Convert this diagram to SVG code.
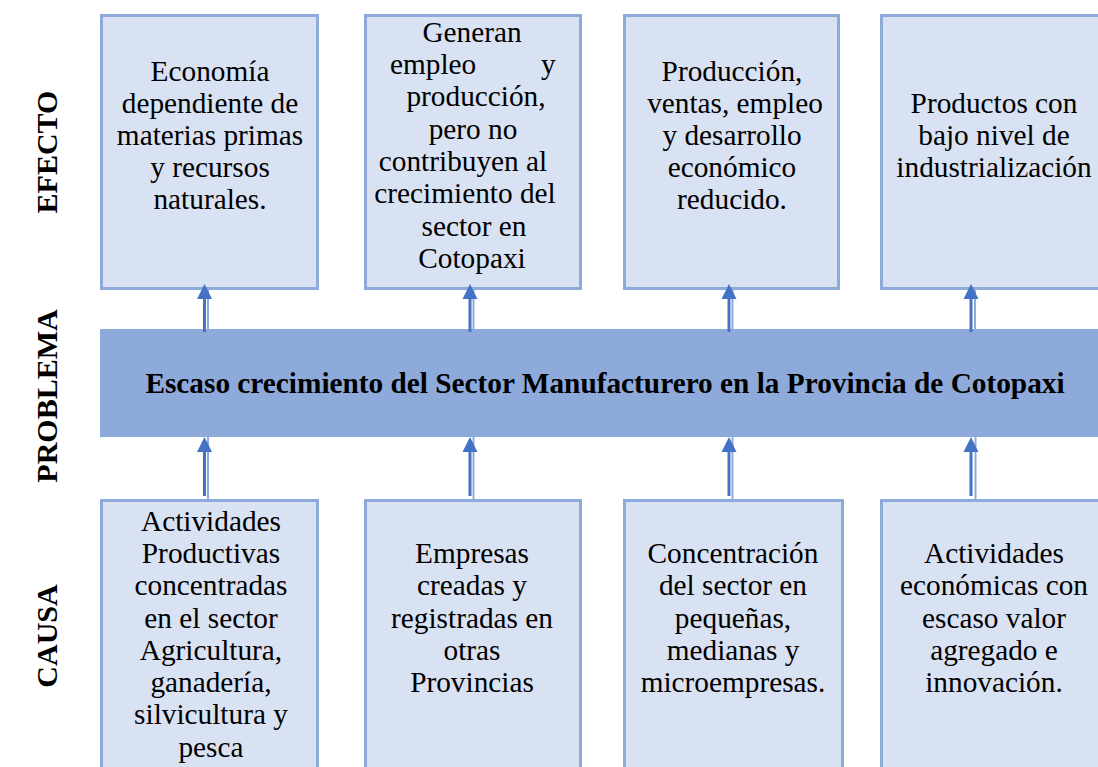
<svg xmlns="http://www.w3.org/2000/svg" width="1098" height="767" viewBox="0 0 1098 767">
<style>
.box{fill:#d9e2f3;stroke:#8eaadb;stroke-width:3}
.banner{fill:#8eaadb}
.t{font-family:"Liberation Serif","Times New Roman",serif;font-size:29.3px;fill:#000;text-anchor:middle}
.b{font-weight:bold}
.s{text-anchor:start}
.lab{font-family:"Liberation Serif","Times New Roman",serif;font-size:30px;font-weight:bold;fill:#000;text-anchor:middle}
.dk{stroke:#4472c4;stroke-width:3;fill:none}
.lt{stroke:#8eaadb;stroke-width:2;fill:none}
.head{fill:#4472c4}
</style>
<rect width="1098" height="767" fill="#fff"/>
<g id="labels">
<text class="lab" transform="translate(57,152) rotate(-90)">EFECTO</text>
<text class="lab" transform="translate(57,396) rotate(-90)">PROBLEMA</text>
<text class="lab" transform="translate(57,636) rotate(-90)">CAUSA</text>
</g>
<g id="problema">
<rect class="banner" x="100" y="329" width="1010" height="108"/>
<text class="t b" x="605" y="393">Escaso crecimiento del Sector Manufacturero en la Provincia de Cotopaxi</text>
</g>
<g id="efecto1">
<rect class="box" x="101.5" y="15.5" width="216" height="273"/>
<text class="t" x="210" y="81">Economía</text>
<text class="t" x="210" y="113">dependiente de</text>
<text class="t" x="210" y="145">materias primas</text>
<text class="t" x="210" y="177">y recursos</text>
<text class="t" x="210" y="209">naturales.</text>
</g>
<g id="efecto2">
<rect class="box" x="365.5" y="15.5" width="215" height="273"/>
<text class="t" x="472" y="42">Generan</text>
<text class="t s" x="390" y="74">empleo<tspan x="541">y</tspan></text>
<text class="t" x="476" y="106">producción,</text>
<text class="t" x="473" y="139">pero no</text>
<text class="t" x="463" y="171">contribuyen al</text>
<text class="t" x="465" y="203">crecimiento del</text>
<text class="t" x="474" y="236">sector en</text>
<text class="t" x="472" y="268">Cotopaxi</text>
</g>
<g id="efecto3">
<rect class="box" x="624.5" y="15.5" width="214" height="273"/>
<text class="t" x="732" y="81">Producción,</text>
<text class="t" x="735" y="113">ventas, empleo</text>
<text class="t" x="732" y="145">y desarrollo</text>
<text class="t" x="732" y="177">económico</text>
<text class="t" x="732" y="209">reducido.</text>
</g>
<g id="efecto4">
<rect class="box" x="881.5" y="15.5" width="230" height="273"/>
<text class="t" x="994" y="113">Productos con</text>
<text class="t" x="994" y="145">bajo nivel de</text>
<text class="t" x="994" y="177">industrialización</text>
</g>
<g id="causa1">
<rect class="box" x="101.5" y="500.5" width="216" height="280"/>
<text class="t" x="211" y="531">Actividades</text>
<text class="t" x="211" y="563">Productivas</text>
<text class="t" x="211" y="595">concentradas</text>
<text class="t" x="211" y="628">en el sector</text>
<text class="t" x="211" y="660">Agricultura,</text>
<text class="t" x="211" y="692">ganadería,</text>
<text class="t" x="211" y="724">silvicultura y</text>
<text class="t" x="211" y="757">pesca</text>
</g>
<g id="causa2">
<rect class="box" x="365.5" y="500.5" width="215" height="280"/>
<text class="t" x="472" y="563">Empresas</text>
<text class="t" x="472" y="595">creadas y</text>
<text class="t" x="472" y="628">registradas en</text>
<text class="t" x="472" y="660">otras</text>
<text class="t" x="472" y="692">Provincias</text>
</g>
<g id="causa3">
<rect class="box" x="624.5" y="500.5" width="218" height="280"/>
<text class="t" x="733" y="563">Concentración</text>
<text class="t" x="733" y="595">del sector en</text>
<text class="t" x="733" y="628">pequeñas,</text>
<text class="t" x="733" y="660">medianas y</text>
<text class="t" x="733" y="692">microempresas.</text>
</g>
<g id="causa4">
<rect class="box" x="881.5" y="500.5" width="230" height="280"/>
<text class="t" x="994" y="563">Actividades</text>
<text class="t" x="994" y="595">económicas con</text>
<text class="t" x="994" y="628">escaso valor</text>
<text class="t" x="994" y="660">agregado e</text>
<text class="t" x="994" y="692">innovación.</text>
</g>
<g id="connectors">
<g id="a-top1"><line class="lt" x1="208" y1="329" x2="208" y2="289"/><line class="dk" x1="204.5" y1="332" x2="204.5" y2="298"/><polygon class="head" points="204.5,284 197,299 212,299"/></g>
<g id="a-top2"><line class="lt" x1="473.5" y1="329" x2="473.5" y2="289"/><line class="dk" x1="470" y1="332" x2="470" y2="298"/><polygon class="head" points="470,284 462.5,299 477.5,299"/></g>
<g id="a-top3"><line class="lt" x1="732.5" y1="329" x2="732.5" y2="289"/><line class="dk" x1="729" y1="332" x2="729" y2="298"/><polygon class="head" points="729,284 721.5,299 736.5,299"/></g>
<g id="a-top4"><line class="lt" x1="975" y1="329" x2="975" y2="289"/><line class="dk" x1="971" y1="332" x2="971" y2="298"/><polygon class="head" points="971,284 963.5,299 978.5,299"/></g>
<g id="a-bot1"><line class="lt" x1="208" y1="499" x2="208" y2="437"/><line class="dk" x1="204.5" y1="496" x2="204.5" y2="451"/><polygon class="head" points="204.5,437 197,452 212,452"/></g>
<g id="a-bot2"><line class="lt" x1="473.5" y1="499" x2="473.5" y2="437"/><line class="dk" x1="470" y1="496" x2="470" y2="451"/><polygon class="head" points="470,437 462.5,452 477.5,452"/></g>
<g id="a-bot3"><line class="lt" x1="732.5" y1="499" x2="732.5" y2="437"/><line class="dk" x1="729" y1="496" x2="729" y2="451"/><polygon class="head" points="729,437 721.5,452 736.5,452"/></g>
<g id="a-bot4"><line class="lt" x1="975.5" y1="499" x2="975.5" y2="437"/><line class="dk" x1="971" y1="496" x2="971" y2="451"/><polygon class="head" points="971,437 963.5,452 978.5,452"/></g>
</g>
</svg>
